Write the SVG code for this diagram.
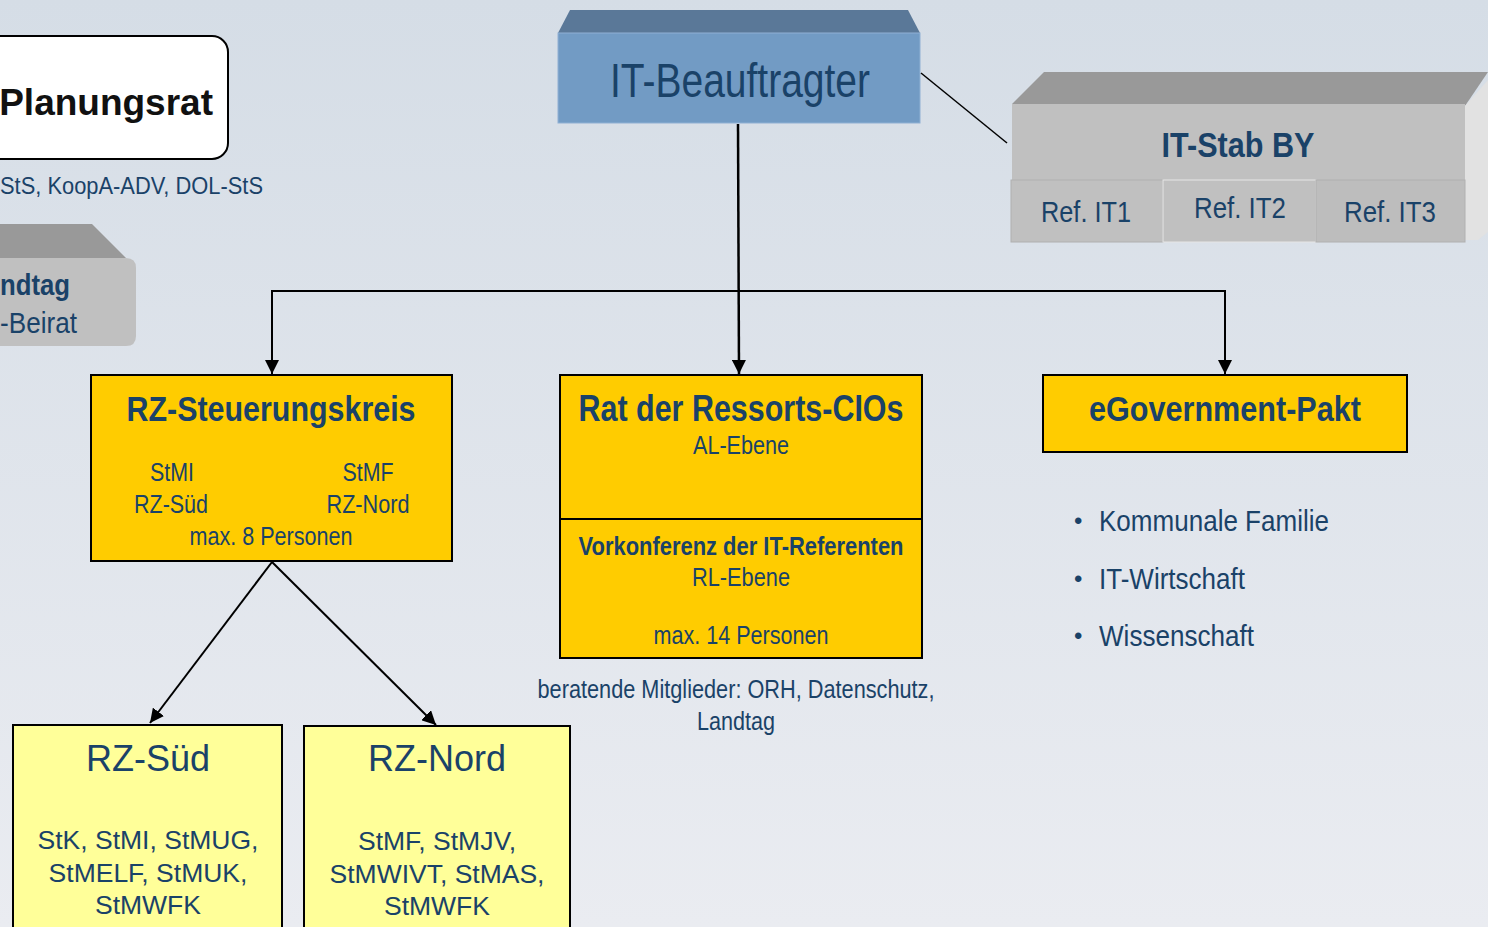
<svg xmlns="http://www.w3.org/2000/svg" width="1488" height="927" viewBox="0 0 1488 927">
<defs>
<linearGradient id="bg" x1="0" y1="0" x2="0" y2="1">
<stop offset="0" stop-color="#d5dde6"/>
<stop offset="1" stop-color="#eaecf1"/>
</linearGradient>
<marker id="arr" viewBox="0 0 10 10" refX="10" refY="5" markerWidth="14" markerHeight="14" markerUnits="userSpaceOnUse" orient="auto">
<path d="M0,0 L10,5 L0,10 z" fill="#000"/>
</marker>
<style>
.t{fill:#1a4268;font-family:"Liberation Sans Narrow","Liberation Sans",Arial,sans-serif}
.r{fill:#1a4268;font-family:"Liberation Sans",Arial,sans-serif}
.b{font-weight:bold}
.c{text-anchor:middle}
.y{fill:#ffcc00;stroke:#000;stroke-width:2}
.ly{fill:#ffff99;stroke:#000;stroke-width:2}
.con{fill:none;stroke:#000;stroke-width:2}
</style>
</defs>
<rect width="1488" height="927" fill="url(#bg)"/>

<g id="planungsrat">
<rect x="-20" y="36" width="248" height="123" rx="16" fill="#fff" stroke="#000" stroke-width="2"/>
<text class="r b" x="213" y="115" font-size="37" text-anchor="end" style="fill:#111">Planungsrat</text>
<text class="t" x="0" y="194" font-size="24" textLength="263" lengthAdjust="spacingAndGlyphs">StS, KoopA-ADV, DOL-StS</text>
</g>

<g id="landtag">
<polygon points="-5,224 92,224 126,258 -5,258" fill="#999"/>
<path d="M-5,258 H126 Q136,258 136,268 V336 Q136,346 126,346 H-5 z" fill="#c0c0c0"/>
<text class="t b" x="0" y="295" font-size="30" textLength="70" lengthAdjust="spacingAndGlyphs">ndtag</text>
<text class="t" x="0" y="333" font-size="30" textLength="77" lengthAdjust="spacingAndGlyphs">-Beirat</text>
</g>

<g id="it-beauftragter">
<polygon points="558,33 570,10 908,10 920,33" fill="#5a7898"/>
<rect x="558" y="33" width="362" height="90" fill="#729bc4" stroke="#8fb0d4" stroke-width="1"/>
<text class="t c" x="740" y="97" font-size="48" textLength="260" lengthAdjust="spacingAndGlyphs">IT-Beauftragter</text>
</g>

<g id="it-stab">
<polygon points="1012,104 1044,72 1488,72 1465,106" fill="#999"/>
<polygon points="1465,106 1488,80 1488,232 1478,240 1465,240" fill="#e2e2e2"/>
<rect x="1012" y="104" width="453" height="76" fill="#c0c0c0"/>
<text class="t b c" x="1238" y="157" font-size="35" textLength="153" lengthAdjust="spacingAndGlyphs">IT-Stab BY</text>
<rect x="1011" y="180" width="152" height="62" fill="#c0c0c0" stroke="#b0b0b0" stroke-width="1"/>
<rect x="1163" y="180" width="153" height="62" fill="#c0c0c0" stroke="#e6e6e6" stroke-width="1"/>
<rect x="1316" y="180" width="149" height="62" fill="#bdbdbd" stroke="#b0b0b0" stroke-width="1"/>
<text class="t c" x="1086" y="222" font-size="30" textLength="90" lengthAdjust="spacingAndGlyphs">Ref. IT1</text>
<text class="t c" x="1240" y="218" font-size="30" textLength="92" lengthAdjust="spacingAndGlyphs">Ref. IT2</text>
<text class="t c" x="1390" y="222" font-size="30" textLength="92" lengthAdjust="spacingAndGlyphs">Ref. IT3</text>
</g>

<g id="connectors">
<line class="con" x1="921" y1="73" x2="1007" y2="143" style="stroke-width:1.5"/>
<line class="con" x1="738" y1="124" x2="739" y2="374" marker-end="url(#arr)" style="stroke-width:2.5"/>
<polyline class="con" points="272,374 272,291 1225,291 1225,374"/>
<line class="con" x1="272" y1="300" x2="272" y2="374" marker-end="url(#arr)"/>
<line class="con" x1="1225" y1="300" x2="1225" y2="374" marker-end="url(#arr)"/>
<line class="con" x1="272" y1="562" x2="150" y2="723" marker-end="url(#arr)"/>
<line class="con" x1="272" y1="562" x2="436" y2="725" marker-end="url(#arr)"/>
</g>

<g id="rz-steuerungskreis">
<rect class="y" x="91" y="375" width="361" height="186"/>
<text class="t b c" x="271" y="421" font-size="35" textLength="289" lengthAdjust="spacingAndGlyphs">RZ-Steuerungskreis</text>
<text class="t c" x="172" y="481" font-size="25" textLength="44" lengthAdjust="spacingAndGlyphs">StMI</text>
<text class="t c" x="368" y="481" font-size="25" textLength="51" lengthAdjust="spacingAndGlyphs">StMF</text>
<text class="t c" x="171" y="513" font-size="25" textLength="74" lengthAdjust="spacingAndGlyphs">RZ-Süd</text>
<text class="t c" x="368" y="513" font-size="25" textLength="83" lengthAdjust="spacingAndGlyphs">RZ-Nord</text>
<text class="t c" x="271" y="545" font-size="25" textLength="163" lengthAdjust="spacingAndGlyphs">max. 8 Personen</text>
</g>

<g id="rat-cios">
<rect class="y" x="560" y="375" width="362" height="144"/>
<text class="t b c" x="741" y="421" font-size="36" textLength="325" lengthAdjust="spacingAndGlyphs">Rat der Ressorts-CIOs</text>
<text class="t c" x="741" y="454" font-size="25" textLength="96" lengthAdjust="spacingAndGlyphs">AL-Ebene</text>
</g>

<g id="vorkonferenz">
<rect class="y" x="560" y="519" width="362" height="139"/>
<text class="t b c" x="741" y="555" font-size="26" textLength="325" lengthAdjust="spacingAndGlyphs">Vorkonferenz der IT-Referenten</text>
<text class="t c" x="741" y="586" font-size="25" textLength="98" lengthAdjust="spacingAndGlyphs">RL-Ebene</text>
<text class="t c" x="741" y="644" font-size="25" textLength="175" lengthAdjust="spacingAndGlyphs">max. 14 Personen</text>
<text class="t c" x="736" y="698" font-size="25" textLength="397" lengthAdjust="spacingAndGlyphs">beratende Mitglieder: ORH, Datenschutz,</text>
<text class="t c" x="736" y="730" font-size="25" textLength="78" lengthAdjust="spacingAndGlyphs">Landtag</text>
</g>

<g id="egov">
<rect class="y" x="1043" y="375" width="364" height="77"/>
<text class="t b c" x="1225" y="421" font-size="35" textLength="272" lengthAdjust="spacingAndGlyphs">eGovernment-Pakt</text>
<text class="t" x="1074" y="529" font-size="24">•</text>
<text class="t" x="1099" y="531" font-size="30" textLength="230" lengthAdjust="spacingAndGlyphs">Kommunale Familie</text>
<text class="t" x="1074" y="587" font-size="24">•</text>
<text class="t" x="1099" y="589" font-size="30" textLength="146" lengthAdjust="spacingAndGlyphs">IT-Wirtschaft</text>
<text class="t" x="1074" y="644" font-size="24">•</text>
<text class="t" x="1099" y="646" font-size="30" textLength="155" lengthAdjust="spacingAndGlyphs">Wissenschaft</text>
</g>

<g id="rz-sued">
<rect class="ly" x="13" y="725" width="269" height="220"/>
<text class="r c" x="148" y="771" font-size="36">RZ-Süd</text>
<text class="r c" x="148" y="849" font-size="26.5">StK, StMI, StMUG,</text>
<text class="r c" x="148" y="882" font-size="26.5">StMELF, StMUK,</text>
<text class="r c" x="148" y="914" font-size="26.5">StMWFK</text>
</g>

<g id="rz-nord">
<rect class="ly" x="304" y="726" width="266" height="220"/>
<text class="r c" x="437" y="771" font-size="36">RZ-Nord</text>
<text class="r c" x="437" y="850" font-size="26.5">StMF, StMJV,</text>
<text class="r c" x="437" y="883" font-size="26.5">StMWIVT, StMAS,</text>
<text class="r c" x="437" y="915" font-size="26.5">StMWFK</text>
</g>
</svg>
